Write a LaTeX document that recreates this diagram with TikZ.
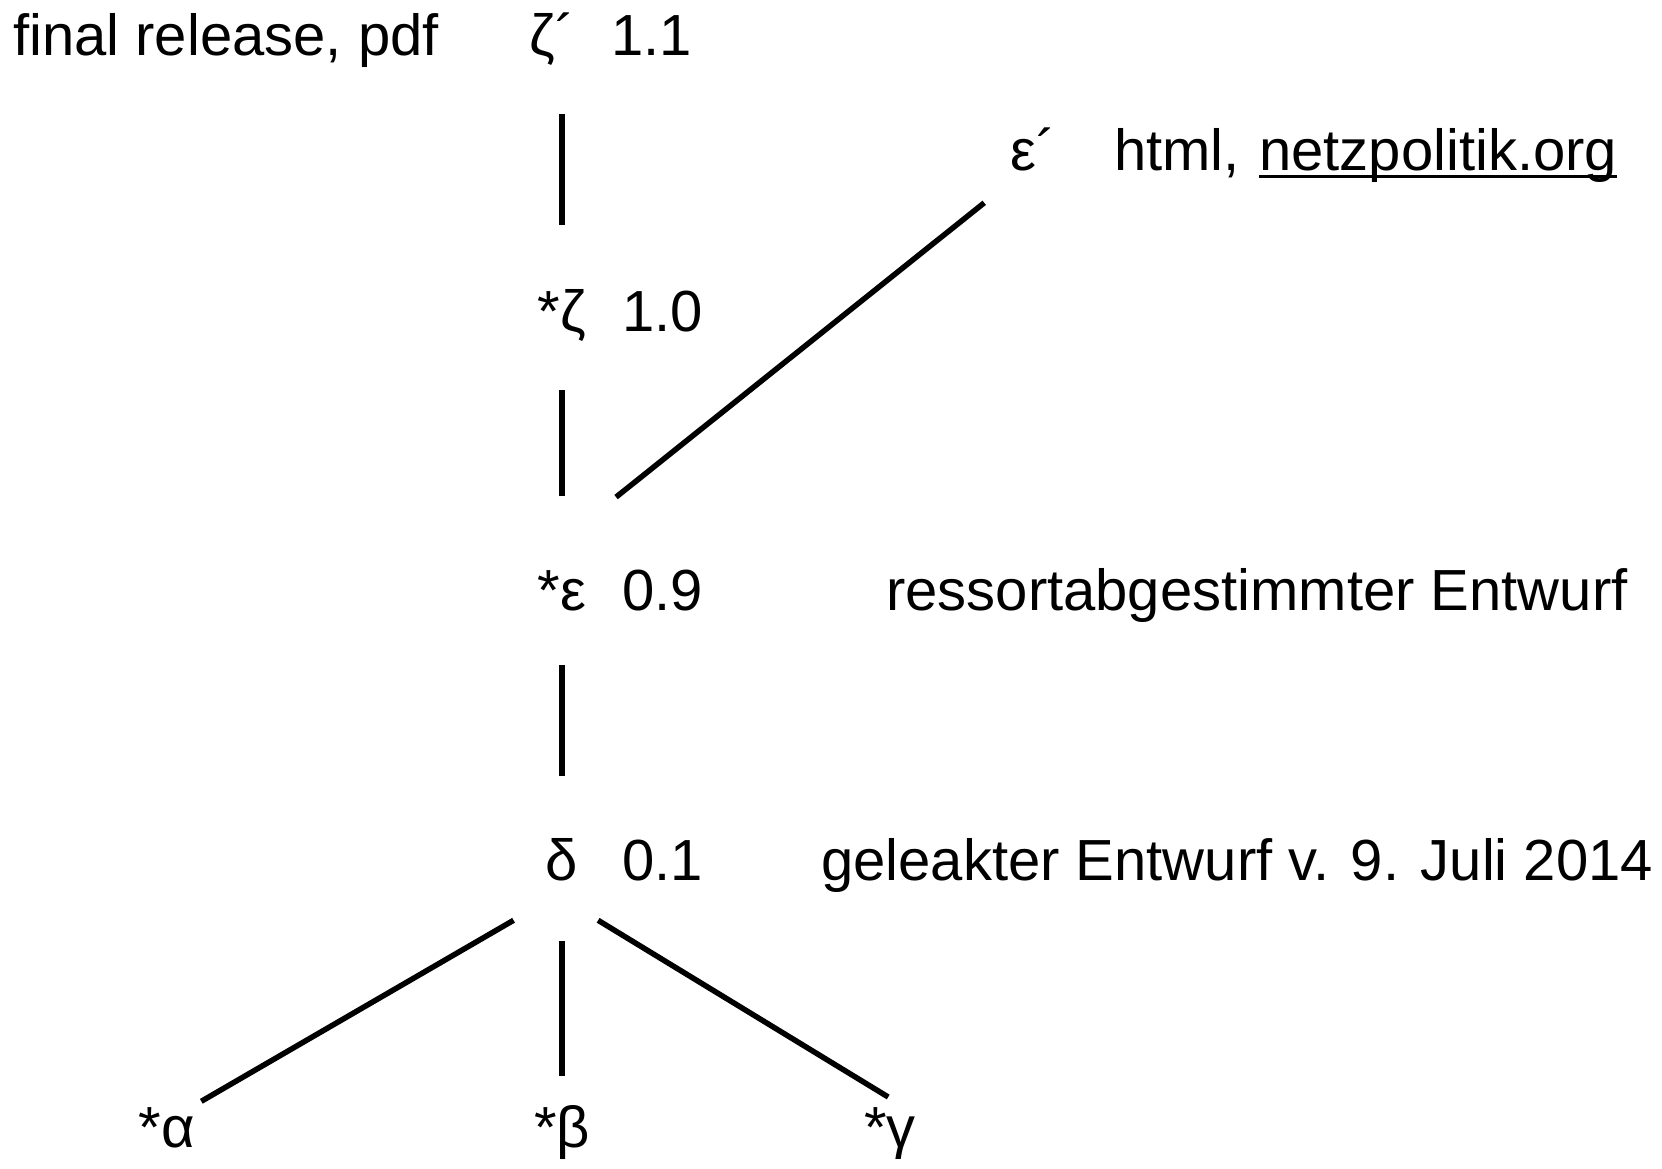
\documentclass[tikz,border=0pt]{standalone}
\usepackage{fontspec}
\setmainfont{Liberation Sans}
\begin{document}
\begin{tikzpicture}[x=1pt,y=-1pt,
  lbl/.style={inner sep=0pt, anchor=base, text height=42pt, text depth=12pt, font=\fontsize{58pt}{70pt}\selectfont},
  txt/.style={inner sep=0pt, anchor=base west, font=\fontsize{58pt}{70pt}\selectfont},
  edge/.style={line width=5.5pt}]
\useasboundingbox (0,0) rectangle (1662,1168);
% labels
\node[txt] (final) at (13,55) {final release, pdf};
\node[lbl] (z11) at (552,55) {ζ´};
\node[txt] (v11) at (611,55) {1.1};
\node[lbl, anchor=base west] (epsp) at (1010,170) {ε´};
\node[txt] (html) at (1114,170) {html,};
\node[txt] (netz) at (1259,170) {netzpolitik.org};
\node[lbl] (z10) at (562,331) {*ζ};
\node[txt] (v10) at (622,331) {1.0};
\node[lbl] (eps) at (562,610) {*ε};
\node[txt] (v09) at (622,610) {0.9};
\node[txt] (ress) at (886,610) {ressortabgestimmter Entwurf};
\node[lbl] (delta) at (562,880) {δ};
\node[txt] (v01) at (622,880) {0.1};
\node[txt] (gel) at (821,880) {geleakter Entwurf v. 9. Juli 2014};
\node[lbl] (alpha) at (167,1147) {*α};
\node[lbl] (beta) at (562,1147) {*β};
\node[lbl] (gamma) at (890,1147) {*γ};
% underline
\draw[line width=3pt] ([yshift=-6pt]netz.base west) -- ([yshift=-6pt]netz.base east);
% connectors
\draw[edge, shorten <=47, shorten >=64] (z10.north |- z11.south) -- (z10.north);
\draw[edge, shorten <=47, shorten >=72] (z10.south) -- (eps.north);
\draw[edge, shorten <=43, shorten >=62] (eps.south) -- (delta.north);
\draw[edge, shorten <=49, shorten >=29] (delta.south) -- (beta.north);
\draw[edge, shorten <=56, shorten >=7] (delta.south) -- (alpha.north east);
\draw[edge, shorten <=54, shorten >=15] ([xshift=-10pt]delta.south) -- ([xshift=11pt]gamma.north);
\draw[edge, shorten <=38, shorten >=33] ([yshift=47pt]eps.north east) -- (epsp.south west);
\end{tikzpicture}
\end{document}
